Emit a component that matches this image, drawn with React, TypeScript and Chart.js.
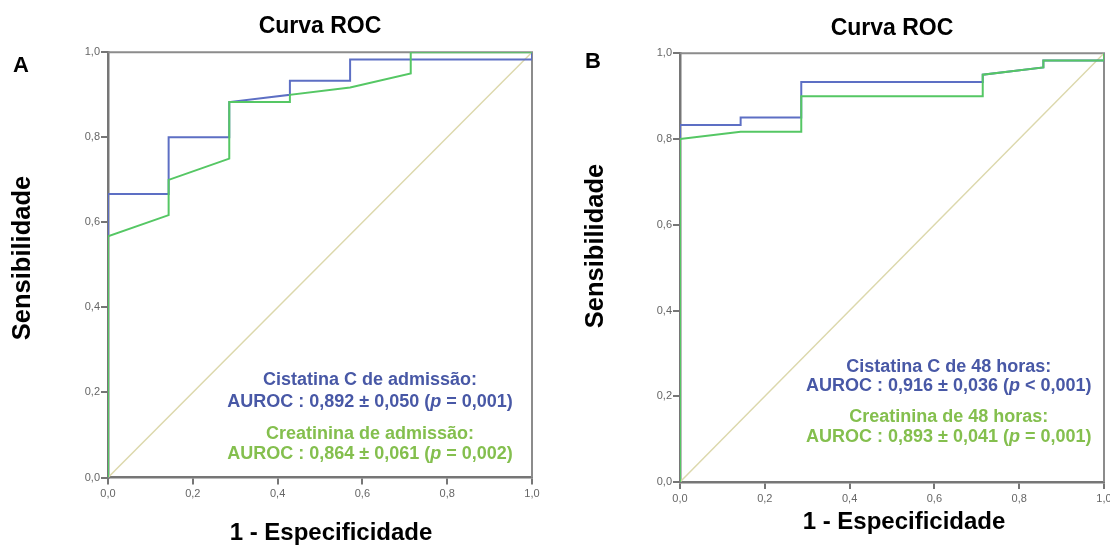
import React, { useEffect, useRef } from "react";
import { Chart, registerables } from "chart.js";

Chart.register(...registerables);

// ---------- Data ----------
// Panel A: admission
const fprA_cistatina = [0, 0, 0.143, 0.143, 0.286, 0.286, 0.429, 0.429, 0.571, 0.571, 1, 1];
const sensA_cistatina = [0, 0.667, 0.667, 0.8, 0.8, 0.883, 0.9, 0.933, 0.933, 0.983, 0.983, 1];
const fprA_creatinina = [0, 0, 0.143, 0.143, 0.286, 0.286, 0.429, 0.429, 0.571, 0.714, 0.714, 1];
const sensA_creatinina = [0, 0.567, 0.617, 0.7, 0.75, 0.883, 0.883, 0.9, 0.917, 0.95, 1, 1];

// Panel B: 48 hours
const fprB_cistatina = [0, 0, 0.143, 0.143, 0.286, 0.286, 0.714, 0.714, 0.857, 0.857, 1, 1];
const sensB_cistatina = [0, 0.833, 0.833, 0.85, 0.85, 0.933, 0.933, 0.95, 0.967, 0.983, 0.983, 1];
const fprB_creatinina = [0, 0, 0.143, 0.286, 0.286, 0.714, 0.714, 0.857, 0.857, 1, 1];
const sensB_creatinina = [0, 0.8, 0.817, 0.817, 0.9, 0.9, 0.95, 0.967, 0.983, 0.983, 1];

// Reference (chance) line
const refLineX = [0, 1];
const refLineY = [0, 1];

const tickValues = [0, 0.2, 0.4, 0.6, 0.8, 1.0];

const chartTitle = "Curva ROC";
const yTitle = "Sensibilidade";
const xTitle = "1 - Especificidade";

const annotA: [string, boolean][][] = [
  [["Cistatina C de admissão:", false]],
  [["AUROC : 0,892 ± 0,050 (", false], ["p", true], [" = 0,001)", false]],
  [["Creatinina de admissão:", false]],
  [["AUROC : 0,864 ± 0,061 (", false], ["p", true], [" = 0,002)", false]],
];
const annotB: [string, boolean][][] = [
  [["Cistatina C de 48 horas:", false]],
  [["AUROC : 0,916 ± 0,036 (", false], ["p", true], [" < 0,001)", false]],
  [["Creatinina de 48 horas:", false]],
  [["AUROC : 0,893 ± 0,041 (", false], ["p", true], [" = 0,001)", false]],
];

// ---------- Styles ----------
const FONT = '"Liberation Sans", Arial, Helvetica, sans-serif';
const BLUE_LINE = "#5d6fc4";
const GREEN_LINE = "#55c764";
const REF_LINE = "#dcd8ac";
const BLUE_TEXT = "#4858a6";
const GREEN_TEXT = "#84bf4e";
const AXIS_COLOR = "#767676";
const annotColors = [BLUE_TEXT, BLUE_TEXT, GREEN_TEXT, GREEN_TEXT];

const toPts = (xs: number[], ys: number[]) => xs.map((x, i) => ({ x, y: ys[i] }));
const fmt = (v: number) => v.toFixed(1).replace(".", ",");

type PanelCfg = {
  id: string;
  letter: string;
  left: number;
  width: number;
  letterX: number;
  letterY: number;
  yScaleWidth: number;
  xScaleHeight: number;
  padRight: number;
  titlePad: { top: number; bottom: number };
  yTitlePos: [number, number]; // canvas coords of centre
  xTitlePos: [number, number];
  cisX: number[];
  cisY: number[];
  creX: number[];
  creY: number[];
  annot: [string, boolean][][];
  annotCx: number; // fraction of plot width
  annotY: number[]; // in sensitivity units
};

const panels: PanelCfg[] = [
  {
    id: "A",
    letter: "A",
    left: 0,
    width: 560,
    letterX: 13,
    letterY: 66,
    yScaleWidth: 108,
    xScaleHeight: 69.5,
    padRight: 28,
    titlePad: { top: 13, bottom: 11.7 },
    yTitlePos: [22.5, 258],
    xTitlePos: [331, 533],
    cisX: fprA_cistatina,
    cisY: sensA_cistatina,
    creX: fprA_creatinina,
    creY: sensA_creatinina,
    annot: annotA,
    annotCx: 0.618,
    annotY: [0.229, 0.178, 0.102, 0.055],
  },
  {
    id: "B",
    letter: "B",
    left: 560,
    width: 550,
    letterX: 25,
    letterY: 62,
    yScaleWidth: 120,
    xScaleHeight: 65,
    padRight: 6,
    titlePad: { top: 14.7, bottom: 11 },
    yTitlePos: [35.5, 246],
    xTitlePos: [344, 522],
    cisX: fprB_cistatina,
    cisY: sensB_cistatina,
    creX: fprB_creatinina,
    creY: sensB_creatinina,
    annot: annotB,
    annotCx: 0.634,
    annotY: [0.268, 0.224, 0.152, 0.105],
  },
];

function drawRich(
  ctx: CanvasRenderingContext2D,
  segs: [string, boolean][],
  cx: number,
  cy: number,
  size: number,
  color: string
) {
  const fonts = segs.map(([, it]) => `${it ? "italic " : ""}bold ${size}px ${FONT}`);
  let total = 0;
  segs.forEach(([t], i) => {
    ctx.font = fonts[i];
    total += ctx.measureText(t).width;
  });
  let x = cx - total / 2;
  ctx.textAlign = "left";
  ctx.textBaseline = "middle";
  ctx.fillStyle = color;
  segs.forEach(([t], i) => {
    ctx.font = fonts[i];
    ctx.fillText(t, x, cy);
    x += ctx.measureText(t).width;
  });
}

function RocPanel({ p }: { p: PanelCfg }) {
  const ref = useRef<HTMLCanvasElement>(null);

  useEffect(() => {
    const canvas = ref.current!;
    const framePlugin = {
      id: "frame" + p.id,
      beforeDatasetsDraw(chart: any) {
        const { ctx, chartArea } = chart;
        ctx.save();
        ctx.strokeStyle = "#8c8c8c";
        ctx.lineWidth = 2;
        ctx.beginPath();
        ctx.moveTo(chartArea.left, chartArea.top);
        ctx.lineTo(chartArea.right, chartArea.top);
        ctx.lineTo(chartArea.right, chartArea.bottom);
        ctx.stroke();
        ctx.restore();
      },
      afterDraw(chart: any) {
        const { ctx, chartArea, scales } = chart;
        ctx.save();
        // annotations
        const cx = chartArea.left + p.annotCx * (chartArea.right - chartArea.left);
        p.annot.forEach((line, i) => {
          drawRich(ctx, line, cx, scales.y.getPixelForValue(p.annotY[i]), 18, annotColors[i]);
        });
        // panel letter
        ctx.font = `bold 22px ${FONT}`;
        ctx.fillStyle = "#000";
        ctx.textAlign = "left";
        ctx.textBaseline = "middle";
        ctx.fillText(p.letter, p.letterX, p.letterY);
        // axis titles
        ctx.textAlign = "center";
        ctx.font = `bold 24px ${FONT}`;
        ctx.fillText(xTitle, p.xTitlePos[0], p.xTitlePos[1]);
        ctx.save();
        ctx.translate(p.yTitlePos[0], p.yTitlePos[1]);
        ctx.rotate(-Math.PI / 2);
        ctx.font = `bold 25.5px ${FONT}`;
        ctx.fillText(yTitle, 0, 0);
        ctx.restore();
        ctx.restore();
      },
    };

    const chart = new Chart(canvas, {
      type: "scatter",
      data: {
        datasets: [
          {
            label: "Creatinina",
            data: toPts(p.creX, p.creY),
            showLine: true,
            borderColor: GREEN_LINE,
            borderWidth: 2,
            pointRadius: 0,
            tension: 0,
          },
          {
            label: "Cistatina C",
            data: toPts(p.cisX, p.cisY),
            showLine: true,
            borderColor: BLUE_LINE,
            borderWidth: 2,
            pointRadius: 0,
            tension: 0,
          },
          {
            label: "Referência",
            data: toPts(refLineX, refLineY),
            showLine: true,
            borderColor: REF_LINE,
            borderWidth: 1.5,
            pointRadius: 0,
          },
        ],
      },
      options: {
        responsive: false,
        animation: false,
        layout: { padding: { left: 0, right: p.padRight, top: 0, bottom: 0 } },
        plugins: {
          legend: { display: false },
          tooltip: { enabled: false },
          title: {
            display: true,
            text: chartTitle,
            fullSize: false,
            color: "#000",
            font: { family: FONT, size: 23, weight: "bold", lineHeight: 1.2 },
            padding: p.titlePad,
          },
        },
        scales: {
          x: {
            type: "linear",
            min: 0,
            max: 1,
            afterBuildTicks: (s: any) => {
              s.ticks = tickValues.map((v) => ({ value: v }));
            },
            afterFit: (s: any) => {
              s.height = p.xScaleHeight;
              s.paddingLeft = 0;
              s.paddingRight = 0;
            },
            ticks: {
              callback: (v: any) => fmt(Number(v)),
              color: "#666",
              font: { family: FONT, size: 11 },
              padding: 3,
              maxRotation: 0,
              autoSkip: false,
            },
            grid: {
              drawOnChartArea: false,
              drawTicks: true,
              tickLength: 7,
              color: AXIS_COLOR,
              lineWidth: 2,
            },
            border: { display: true, color: AXIS_COLOR, width: 2.5 },
            title: { display: false, text: xTitle },
          },
          y: {
            type: "linear",
            min: 0,
            max: 1,
            afterBuildTicks: (s: any) => {
              s.ticks = tickValues.map((v) => ({ value: v }));
            },
            afterFit: (s: any) => {
              s.width = p.yScaleWidth;
              s.paddingTop = 0;
              s.paddingBottom = 0;
            },
            ticks: {
              callback: (v: any) => fmt(Number(v)),
              color: "#666",
              font: { family: FONT, size: 11 },
              padding: 1,
              autoSkip: false,
            },
            grid: {
              drawOnChartArea: false,
              drawTicks: true,
              tickLength: 7,
              color: AXIS_COLOR,
              lineWidth: 2,
            },
            border: { display: true, color: AXIS_COLOR, width: 2.5 },
            title: { display: false, text: yTitle },
          },
        },
      },
      plugins: [framePlugin],
    } as any);

    return () => chart.destroy();
  }, [p]);

  return (
    <canvas
      ref={ref}
      width={p.width}
      height={547}
      style={{ position: "absolute", left: p.left, top: 0, width: p.width, height: 547 }}
    />
  );
}

export default function App() {
  return (
    <div
      style={{
        position: "absolute",
        left: 0,
        top: 0,
        width: 1110,
        height: 547,
        background: "#fff",
        overflow: "hidden",
      }}
    >
      {panels.map((p) => (
        <RocPanel key={p.id} p={p} />
      ))}
    </div>
  );
}
